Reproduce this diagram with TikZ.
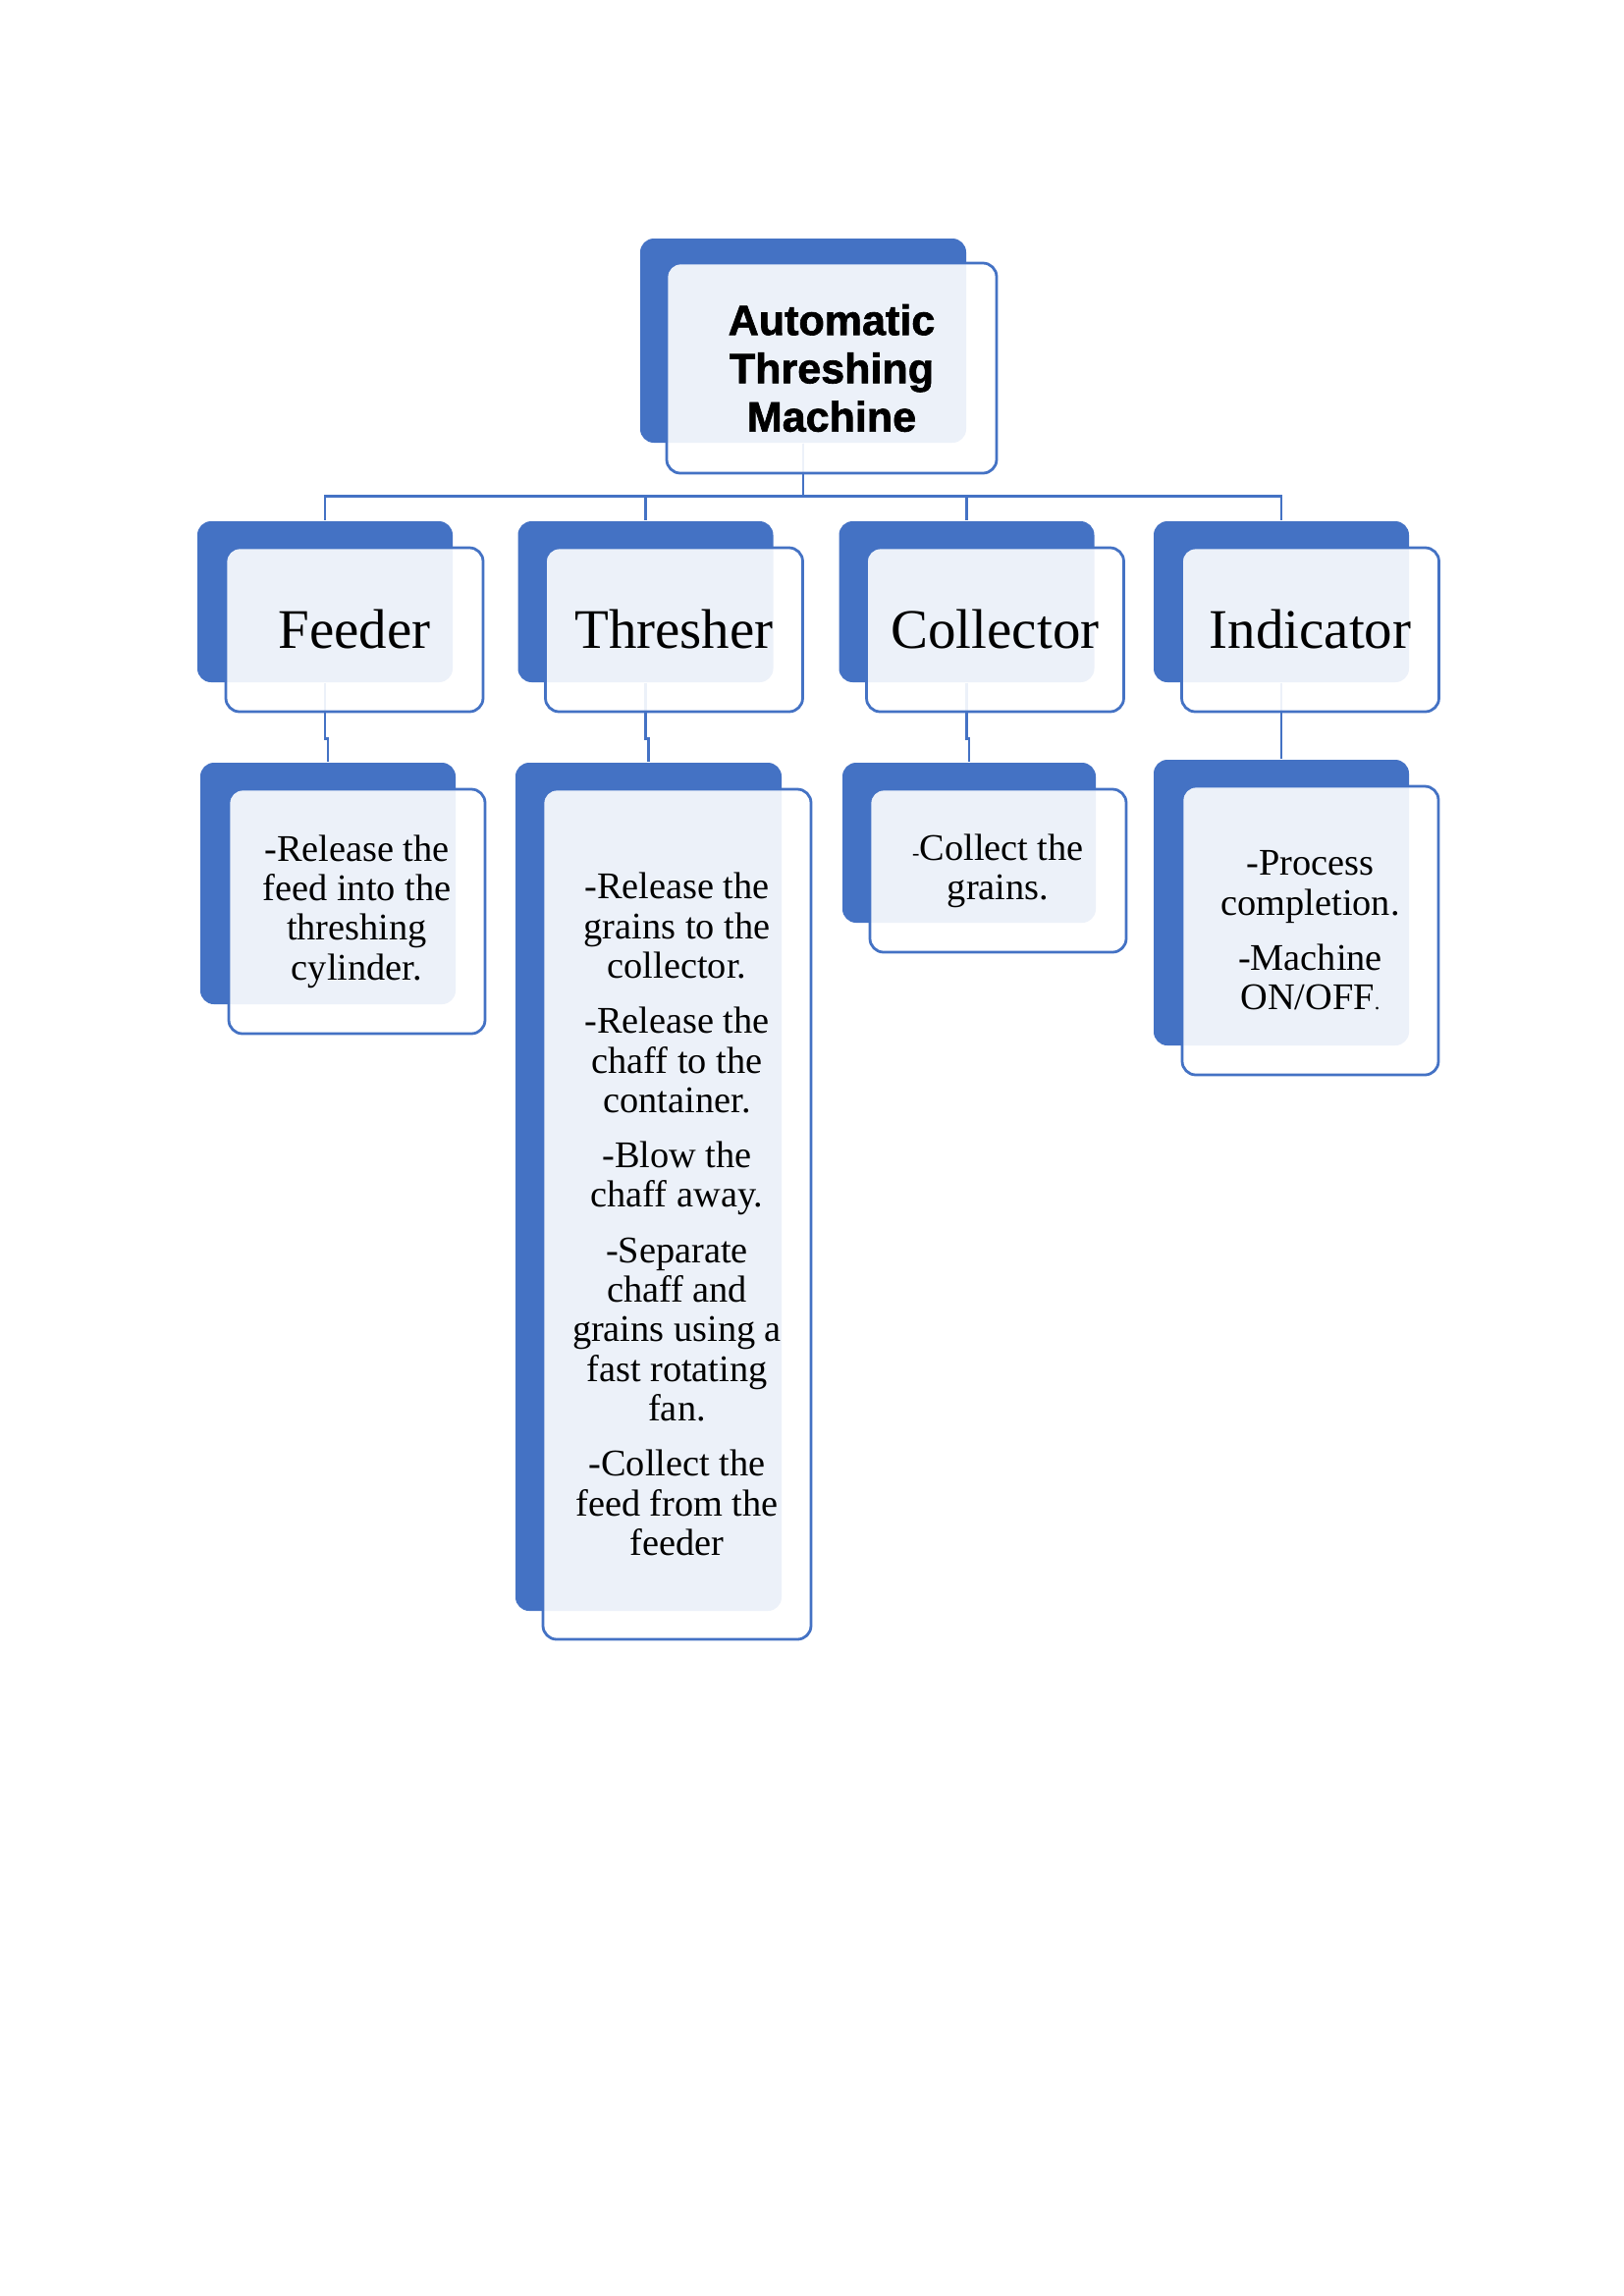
\documentclass[tikz,border=0pt]{standalone}
\usepackage{fontspec}
\setmainfont{Liberation Serif}
\newfontfamily\titlefont{Liberation Sans Bold}[FakeBold=1.5]
\pgfdeclarelayer{bg}
\pgfsetlayers{bg,main}
\definecolor{accent}{HTML}{4472C4}
\newcommand\px{0.3599pt}
\tikzset{
  darkbox/.style={fill=accent, draw=none, rounded corners=5pt, inner sep=0pt},
  frontbox/.style={fill=white, fill opacity=0.9, text opacity=1, draw=accent, line width=1pt,
    rounded corners=5pt, inner sep=0pt, align=center, text=black},
  titletext/.style={font=\titlefont\fontsize{15.5}{17.7}\selectfont},
  headtext/.style={font=\fontsize{20.5}{24}\selectfont},
  bodytext/.style={font=\fontsize{13.8}{14.5}\selectfont},
  conn/.style={draw=accent, line width=0.9pt},
}
\begin{document}
\begin{tikzpicture}[x=\px, y=-\px]
\path[use as bounding box] (0,0) rectangle (1654,2339);

% dark back shapes
\node[darkbox, minimum width=332*\px, minimum height=208*\px] (topD) at (818,347) {};
\node[darkbox, minimum width=260*\px, minimum height=164*\px] (fHD) at (331,613) {};
\node[darkbox, minimum width=260*\px, minimum height=164*\px] (tHD) at (657.5,613) {};
\node[darkbox, minimum width=260*\px, minimum height=164*\px] (cHD) at (984.5,613) {};
\node[darkbox, minimum width=260*\px, minimum height=164*\px] (iHD) at (1305,613) {};
\node[darkbox, minimum width=260*\px, minimum height=246*\px] (fDD) at (334,900) {};
\node[darkbox, minimum width=271*\px, minimum height=864*\px] (tDD) at (660.5,1209) {};
\node[darkbox, minimum width=258*\px, minimum height=163*\px] (cDD) at (987,858.5) {};
\node[darkbox, minimum width=260*\px, minimum height=291*\px] (iDD) at (1305,919.5) {};

% front boxes with text
\node[frontbox, titletext, minimum width=336*\px, minimum height=214*\px] (top) at (847,375)
  {Automatic\\Threshing\\Machine};
\node[frontbox, headtext, minimum width=262*\px, minimum height=167*\px] (fH) at (361,641.5) {Feeder};
\node[frontbox, headtext, minimum width=262*\px, minimum height=167*\px] (tH) at (686.5,641.5) {Thresher};
\node[frontbox, headtext, minimum width=262*\px, minimum height=167*\px] (cH) at (1013.5,641.5) {Collector};
\node[frontbox, headtext, minimum width=262*\px, minimum height=167*\px] (iH) at (1334.5,641.5) {Indicator};

\node[frontbox, bodytext, minimum width=261*\px, minimum height=249*\px] (fD) at (363.5,928.5)
  {-Release the\\feed into the\\threshing\\cylinder.};
\node[frontbox, bodytext, minimum width=273*\px, minimum height=866*\px] (tD) at (689.5,1237)
  {-Release the\\grains to the\\collector.\\[5.8pt]
   -Release the\\chaff to the\\container.\\[5.8pt]
   -Blow the\\chaff away.\\[5.8pt]
   -Separate\\chaff and\\grains using a\\fast rotating\\fan.\\[5.8pt]
   -Collect the\\feed from the\\feeder};
\node[frontbox, bodytext, minimum width=261*\px, minimum height=166*\px] (cD) at (1016.5,887)
  {{\fontsize{8}{8}\selectfont -}Collect the\\grains.};
\node[frontbox, bodytext, minimum width=261*\px, minimum height=294*\px] (iD) at (1334.5,948)
  {-Process\\completion.\\[5.8pt]-Machine\\ON/OFF{\fontsize{8}{8}\selectfont .}};

% connectors
\begin{pgfonlayer}{bg}
\draw[conn] (topD.south) -- ++(0,54) -| (fHD.north);
\draw[conn] (topD.south) -- ++(0,54) -| (tHD.north);
\draw[conn] (topD.south) -- ++(0,54) -| (cHD.north);
\draw[conn] (topD.south) -- ++(0,54) -| (iHD.north);
\draw[conn] (fHD.south) -- ++(0,57) -| (fDD.north);
\draw[conn] (tHD.south) -- ++(0,57) -| (tDD.north);
\draw[conn] (cHD.south) -- ++(0,57) -| (cDD.north);
\draw[conn] (iHD.south) -- (iDD.north);
\end{pgfonlayer}
\end{tikzpicture}
\end{document}
